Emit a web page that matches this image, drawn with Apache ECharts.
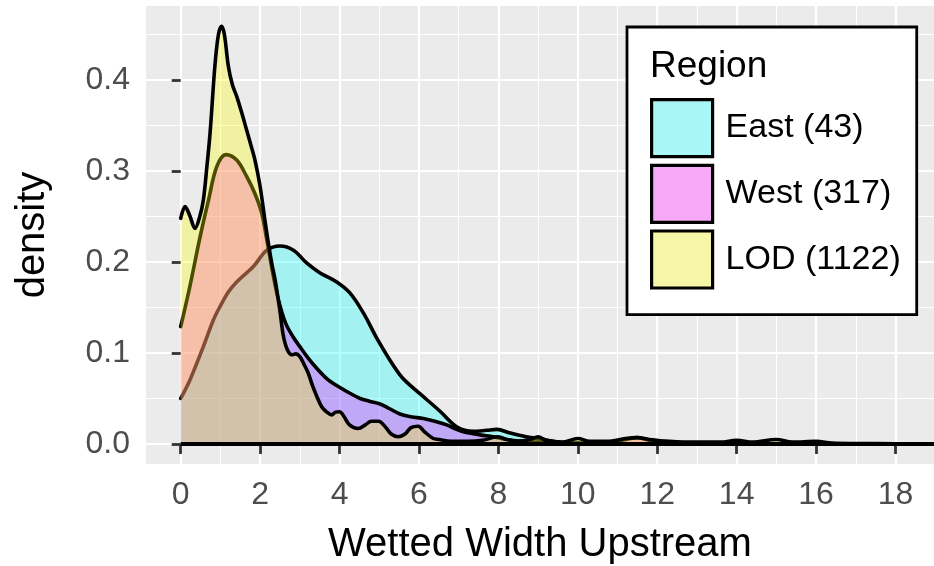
<!DOCTYPE html>
<html>
<head>
<meta charset="utf-8">
<style>
  html, body { margin: 0; padding: 0; background: #fff; }
  #density-chart { width: 934px; height: 566px; }
</style>
<script src="https://cdn.jsdelivr.net/npm/echarts@6/dist/echarts.min.js"></script>
</head>
<body>
<div id="density-chart"></div>
<script>
// density of wetted width upstream by region
var regionNames = ['East (43)', 'West (317)', 'LOD (1122)'];
var fillColors = ['#00FFFF', '#FF00FF', '#FFFF00'];
var keyColors = ['#A9F6F6', '#F6A9F6', '#F6F6A9'];   // fill on grey95 key

var eastDensity = [
    [0, 0.050], [0.23, 0.070], [0.57, 0.107], [0.82, 0.136], [0.99, 0.151],
    [1.2, 0.167], [1.41, 0.178], [1.83, 0.195], [2.17, 0.213], [2.5, 0.2176],
    [2.84, 0.213], [3.17, 0.199], [3.51, 0.188], [3.93, 0.178], [4.26, 0.166],
    [4.6, 0.144], [4.94, 0.116], [5.27, 0.092], [5.52, 0.076], [5.69, 0.068],
    [6.03, 0.055], [6.53, 0.036], [6.95, 0.019], [7.37, 0.014], [7.7, 0.015],
    [7.96, 0.016], [8.3, 0.012], [8.7, 0.008], [9.0, 0.006], [9.3, 0.0036],
    [9.7, 0.001], [10.5, 0.0002], [18.97, 0]
];
var westDensity = [
    [0, 0.129], [0.23, 0.173], [0.49, 0.228], [0.7, 0.268], [0.91, 0.305],
    [1.14, 0.318], [1.41, 0.312], [1.66, 0.294], [1.87, 0.275], [2.04, 0.2535],
    [2.17, 0.224], [2.3, 0.192], [2.4, 0.170], [2.5, 0.152], [2.65, 0.132],
    [2.84, 0.117], [3.0, 0.107], [3.2, 0.095], [3.43, 0.083], [3.7, 0.071],
    [4.01, 0.062], [4.25, 0.056], [4.52, 0.050], [4.75, 0.047], [5.02, 0.044],
    [5.25, 0.039], [5.52, 0.033], [5.8, 0.030], [6.11, 0.028], [6.4, 0.025],
    [6.7, 0.021], [6.9, 0.017], [7.12, 0.0135], [7.54, 0.010], [7.87, 0.008],
    [8.2, 0.005], [8.6, 0.003], [9.0, 0.002], [9.5, 0.001], [10.0, 0.001],
    [10.8, 0.002], [11.2, 0.005], [11.5, 0.007], [11.8, 0.004], [12.3, 0.001],
    [13.0, 0.0005], [18.97, 0]
];
var lodDensity = [
    [0, 0.248], [0.11, 0.261], [0.22, 0.252], [0.36, 0.237], [0.48, 0.250],
    [0.57, 0.268], [0.66, 0.305], [0.74, 0.342], [0.86, 0.415], [0.95, 0.450],
    [1.03, 0.459], [1.1, 0.450], [1.2, 0.415], [1.3, 0.395], [1.41, 0.382],
    [1.53, 0.365], [1.66, 0.345], [1.77, 0.328], [1.87, 0.312], [2.0, 0.283],
    [2.12, 0.246], [2.21, 0.220], [2.3, 0.197], [2.38, 0.180], [2.5, 0.146],
    [2.58, 0.120], [2.68, 0.104], [2.8, 0.098], [2.9, 0.099], [3.0, 0.096],
    [3.1, 0.088], [3.21, 0.078], [3.32, 0.064], [3.43, 0.052], [3.55, 0.041],
    [3.68, 0.035], [3.8, 0.032], [3.9, 0.035], [4.0, 0.0355], [4.1, 0.031],
    [4.25, 0.021], [4.47, 0.017], [4.65, 0.021], [4.8, 0.025], [4.98, 0.025],
    [5.15, 0.019], [5.3, 0.011], [5.48, 0.008], [5.65, 0.011], [5.8, 0.018],
    [5.98, 0.0195], [6.15, 0.013], [6.36, 0.006], [6.5, 0.005], [6.8, 0.003],
    [7.2, 0.003], [7.6, 0.004], [7.85, 0.007], [8.0, 0.008], [8.2, 0.005],
    [8.5, 0.003], [8.8, 0.005], [9.0, 0.008], [9.2, 0.004], [9.6, 0.002],
    [10.0, 0.006], [10.3, 0.003], [10.8, 0.003], [11.2, 0.006], [11.5, 0.007],
    [11.8, 0.005], [12.3, 0.003], [13.0, 0.002], [13.6, 0.002], [14.0, 0.004],
    [14.4, 0.002], [15.0, 0.005], [15.4, 0.002], [16.0, 0.003], [16.4, 0.001],
    [17.0, 0.0005], [18.0, 0.0003], [18.97, 0.0002]
];
var baselineX = [0, 18.97];

var xMajorTicks = [0, 2, 4, 6, 8, 10, 12, 14, 16, 18];
var xMinorTicks = [1, 3, 5, 7, 9, 11, 13, 15, 17];
var yMajorTicks = [0, 0.1, 0.2, 0.3, 0.4];
var yMinorTicks = [0.05, 0.15, 0.25, 0.35, 0.45];

var FONT = '"Liberation Sans", Arial, Helvetica, sans-serif';
var X_MIN = -0.874, X_MAX = 18.97;
var Y_MIN = -0.022, Y_MAX = 0.4813;

function minorAxis(ticks, min, max) {
    return {
        type: 'value', min: min, max: max,
        axisLine: { show: false },
        axisTick: { show: false, customValues: ticks },
        axisLabel: { show: false, customValues: ticks },
        splitLine: { show: true, lineStyle: { color: '#FFFFFF', width: 1.1 } }
    };
}

function densitySeries(i, data) {
    return {
        name: regionNames[i],
        type: 'line',
        data: data,
        smooth: 0.35,
        showSymbol: false,
        symbol: 'none',
        lineStyle: { color: '#000', width: 3.6, cap: 'round', join: 'round' },
        areaStyle: { color: fillColors[i], opacity: 0.3 },
        itemStyle: { color: fillColors[i] },
        z: 2 + i
    };
}

var chart = echarts.init(document.getElementById('density-chart'));

var option = {
    animation: false,
    backgroundColor: '#FFFFFF',
    textStyle: { fontFamily: FONT },
    title: {
        text: 'Region',
        left: 650, top: 48, padding: 0,
        textStyle: { fontSize: 37, fontWeight: 'normal', color: '#000', fontFamily: FONT },
        z: 10
    },
    grid: {
        left: 146, right: 0, top: 6, bottom: 102,
        show: true, backgroundColor: '#EBEBEB', borderWidth: 0,
        containLabel: false, outerBoundsMode: 'none'
    },
    xAxis: [
        {
            type: 'value', min: X_MIN, max: X_MAX,
            name: 'Wetted Width Upstream', nameLocation: 'middle', nameGap: 61,
            nameTextStyle: { fontSize: 40, color: '#000', fontFamily: FONT },
            axisLine: { show: false },
            axisTick: { show: true, customValues: xMajorTicks, length: 10,
                lineStyle: { color: '#333333', width: 2.8 } },
            axisLabel: { customValues: xMajorTicks, margin: 15, fontSize: 32,
                color: '#4D4D4D', fontFamily: FONT },
            splitLine: { show: true, lineStyle: { color: '#FFFFFF', width: 2.2 } },
            z: 1
        },
        minorAxis(xMinorTicks, X_MIN, X_MAX)
    ],
    yAxis: [
        {
            type: 'value', min: Y_MIN, max: Y_MAX,
            name: 'density', nameLocation: 'middle', nameGap: 93, nameRotate: 90,
            nameTextStyle: { fontSize: 40, color: '#000', fontFamily: FONT },
            axisLine: { show: false },
            axisTick: { show: true, customValues: yMajorTicks, length: 9,
                lineStyle: { color: '#333333', width: 2.8 } },
            axisLabel: { customValues: yMajorTicks, margin: 16, fontSize: 32,
                color: '#4D4D4D', fontFamily: FONT,
                formatter: function (v) { return v.toFixed(1); } },
            splitLine: { show: true, lineStyle: { color: '#FFFFFF', width: 2.2 } },
            z: 1
        },
        minorAxis(yMinorTicks, Y_MIN, Y_MAX)
    ],
    legend: {
        orient: 'vertical',
        left: 627, top: 27,
        padding: [71, 16, 25, 23],
        itemWidth: 61, itemHeight: 57, itemGap: 5.5,
        backgroundColor: '#FFFFFF', borderColor: '#000', borderWidth: 2.8,
        borderRadius: 0,
        selectedMode: false,
        icon: 'rect',
        itemStyle: { borderColor: '#000', borderWidth: 3.2 },
        textStyle: { fontSize: 34, color: '#000', fontFamily: FONT, padding: [0, 0, 0, 8] },
        data: regionNames.map(function (n, i) {
            return { name: n, icon: 'rect', itemStyle: { color: keyColors[i], borderColor: '#000', borderWidth: 3.2 } };
        }),
        z: 8
    },
    series: [
        densitySeries(0, eastDensity),
        densitySeries(1, westDensity),
        densitySeries(2, lodDensity),
        {
            name: 'baseline',
            type: 'line',
            data: baselineX.map(function (x) { return [x, 0]; }),
            showSymbol: false,
            symbol: 'none',
            lineStyle: { color: '#000', width: 3.8 },
            z: 6,
            silent: true
        }
    ]
};

chart.setOption(option);
</script>
</body>
</html>
